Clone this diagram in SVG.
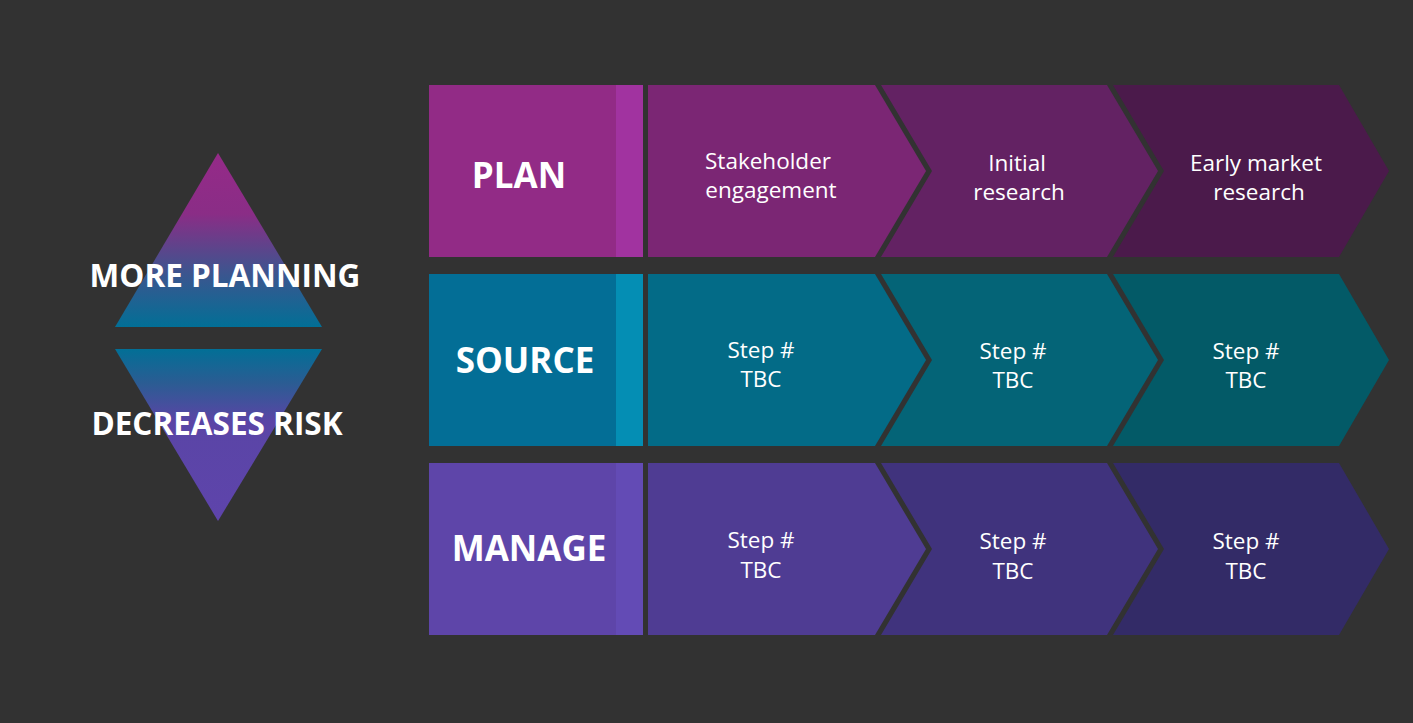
<svg xmlns="http://www.w3.org/2000/svg" width="1413" height="723" viewBox="0 0 1413 723">
<defs>
<linearGradient id="gUp" x1="0" y1="0" x2="0" y2="1">
<stop offset="0" stop-color="#952A88"/>
<stop offset="0.35" stop-color="#8A2D86"/>
<stop offset="0.7" stop-color="#3A568F"/>
<stop offset="1" stop-color="#026F96"/>
</linearGradient>
<linearGradient id="gDn" x1="0" y1="0" x2="0" y2="1">
<stop offset="0" stop-color="#026F96"/>
<stop offset="0.2" stop-color="#2B5C93"/>
<stop offset="0.42" stop-color="#5A45A6"/>
<stop offset="1" stop-color="#5E44AB"/>
</linearGradient>
<style>
.hd{font-family:"Open Sans","Noto Sans",sans-serif;font-weight:bold;fill:#FFFFFF;text-anchor:middle;font-size:35px}
.st{font-family:"Open Sans","Noto Sans",sans-serif;font-size:22.5px;fill:#FFFFFF;text-anchor:middle}
.side{font-family:"Open Sans","Noto Sans",sans-serif;font-weight:bold;font-size:31.5px;fill:#FFFFFF;text-anchor:middle}
</style>
</defs>
<rect x="0" y="0" width="1413" height="723" fill="#323232"/>

<g id="risk-indicator">
<polygon points="218,153 322,327 115,327" fill="url(#gUp)"/>
<polygon points="115,349 322,349 218,521" fill="url(#gDn)"/>
<text class="side" x="225" y="287">MORE PLANNING</text>
<text class="side" x="217" y="435" font-size="32.5">DECREASES RISK</text>
</g>

<g id="plan">
<rect x="429" y="85" width="187" height="172" fill="#922B86"/>
<rect x="616" y="85" width="27" height="172" fill="#A133A0"/>
<text class="hd" x="519" y="188">PLAN</text>
</g>
<g id="plan-step1">
<polygon points="648,85 875,85 926,171 875,257 648,257" fill="#7B2674"/>
<text class="st" x="768" y="169">Stakeholder</text>
<text class="st" x="771" y="198">engagement</text>
</g>
<g id="plan-step2">
<polygon points="881,85 1107,85 1158,171 1107,257 881,257 932,171" fill="#632263"/>
<text class="st" x="1017" y="171">Initial</text>
<text class="st" x="1019" y="200">research</text>
</g>
<g id="plan-step3">
<polygon points="1113,85 1339,85 1389,171 1339,257 1113,257 1164,171" fill="#4B1A4B"/>
<text class="st" x="1256" y="171">Early market</text>
<text class="st" x="1259" y="200">research</text>
</g>

<g id="source">
<rect x="429" y="274" width="187" height="172" fill="#036E96"/>
<rect x="616" y="274" width="27" height="172" fill="#048EB4"/>
<text class="hd" x="525" y="373">SOURCE</text>
</g>
<g id="source-step1">
<polygon points="648,274 875,274 926,360 875,446 648,446" fill="#036B87"/>
<text class="st" x="761" y="358">Step #</text>
<text class="st" x="761" y="387">TBC</text>
</g>
<g id="source-step2">
<polygon points="881,274 1107,274 1158,360 1107,446 881,446 932,360" fill="#046477"/>
<text class="st" x="1013" y="359">Step #</text>
<text class="st" x="1013" y="388">TBC</text>
</g>
<g id="source-step3">
<polygon points="1113,274 1339,274 1389,360 1339,446 1113,446 1164,360" fill="#035A67"/>
<text class="st" x="1246" y="359">Step #</text>
<text class="st" x="1246" y="388">TBC</text>
</g>

<g id="manage">
<rect x="429" y="463" width="187" height="172" fill="#5E45A9"/>
<rect x="616" y="463" width="27" height="172" fill="#634BB5"/>
<text class="hd" x="529" y="561">MANAGE</text>
</g>
<g id="manage-step1">
<polygon points="648,463 875,463 926,549 875,635 648,635" fill="#4F3C93"/>
<text class="st" x="761" y="548">Step #</text>
<text class="st" x="761" y="578">TBC</text>
</g>
<g id="manage-step2">
<polygon points="881,463 1107,463 1158,549 1107,635 881,635 932,549" fill="#40337D"/>
<text class="st" x="1013" y="549">Step #</text>
<text class="st" x="1013" y="579">TBC</text>
</g>
<g id="manage-step3">
<polygon points="1113,463 1339,463 1389,549 1339,635 1113,635 1164,549" fill="#332B67"/>
<text class="st" x="1246" y="549">Step #</text>
<text class="st" x="1246" y="579">TBC</text>
</g>

<g id="connectors"></g>
</svg>
